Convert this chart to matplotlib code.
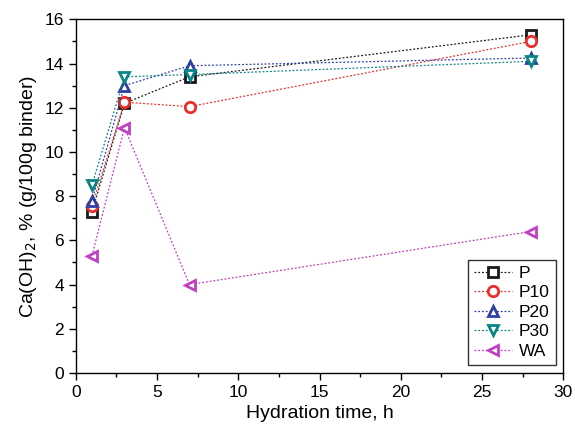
import matplotlib
matplotlib.use("Agg")
import matplotlib.pyplot as plt
from matplotlib.ticker import MultipleLocator

plt.rcParams['font.family'] = ['Liberation Sans', 'DejaVu Sans']

time_h = [1, 3, 7, 28]
P = [7.3, 12.2, 13.4, 15.3]
P10 = [7.55, 12.25, 12.05, 15.0]
P20 = [7.8, 13.0, 13.9, 14.25]
P30 = [8.5, 13.4, 13.5, 14.1]
WA = [5.3, 11.1, 4.0, 6.4]

series = [
    ("P", P, "#1a1a1a", "s"),
    ("P10", P10, "#e8302a", "o"),
    ("P20", P20, "#2e3fa6", "^"),
    ("P30", P30, "#0a8585", "v"),
    ("WA", WA, "#c040c0", "<"),
]

fig = plt.figure(figsize=(5.75, 4.33), dpi=100)
ax = fig.add_axes([0.1317, 0.1386, 0.848, 0.8168])

for name, vals, col, mk in series:
    ax.plot(time_h, vals, linestyle=(0, (1.5, 1.5)), linewidth=0.9, color=col,
            marker=mk, markersize=7.5, markerfacecolor='white', markeredgecolor=col,
            markeredgewidth=2, label=name)

ax.set_xlim(0, 30)
ax.set_ylim(0, 16)
ax.xaxis.set_major_locator(MultipleLocator(5))
ax.yaxis.set_major_locator(MultipleLocator(2))
ax.yaxis.set_minor_locator(MultipleLocator(1))
ax.xaxis.set_minor_locator(MultipleLocator(2.5))
ax.tick_params(axis='both', which='major', direction='out', length=5, width=1, labelsize=12.5)
ax.tick_params(axis='both', which='minor', direction='out', length=3, width=1)
for s in ax.spines.values():
    s.set_linewidth(1)

ax.set_xlabel("Hydration time, h", fontsize=14)
ax.set_ylabel("Ca(OH)$_2$, % (g/100g binder)", fontsize=14)

leg = ax.legend(loc='lower right', fontsize=12.5, frameon=True, fancybox=False,
                edgecolor='black', handlelength=2.2, borderpad=0.35, labelspacing=0.25,
                handletextpad=0.4, borderaxespad=0, bbox_to_anchor=(0.985, 0.0226))
leg.get_frame().set_linewidth(1)

fig.savefig("out.png", dpi=100)
